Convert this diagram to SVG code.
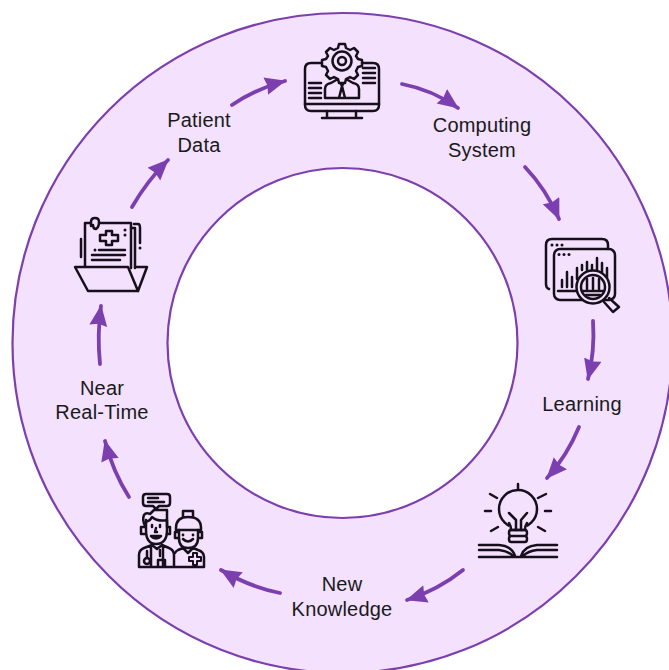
<svg xmlns="http://www.w3.org/2000/svg" width="669" height="670" viewBox="0 0 669 670">
<style>
.ring{fill:#f3e1fd;stroke:#7c3fae;stroke-width:2.2}
.hole{fill:#fff;stroke:#7c3fae;stroke-width:2.2}
.ic{fill:none;stroke:#17101c;stroke-width:2.5;stroke-linecap:round;stroke-linejoin:round}
.fl{fill:#f3e1fd}
.dot{fill:#17101c;stroke:none}
.ar{fill:none;stroke:#7b3fb0;stroke-width:3.8;stroke-linecap:round;marker-end:url(#h)}
.t{font-family:"Liberation Sans",Arial,sans-serif;font-size:20px;fill:#1a1a1a;text-anchor:middle;letter-spacing:.2px}
</style>
<defs>
<marker id="h" markerUnits="userSpaceOnUse" markerWidth="24" markerHeight="20" refX="20" refY="9" orient="auto"><path d="M0 0L21 9L0 18L2 9Z" fill="#7b3fb0"/></marker>
</defs>
<g id="ring">
<circle class="ring" cx="342.500" cy="343" r="330"/>
<circle class="hole" cx="342.500" cy="343" r="175"/>
</g>
<g id="connectors">
<path class="ar" d="M232 105Q255 89 285 81"/>
<path class="ar" d="M402 84Q433 90 458 108"/>
<path class="ar" d="M525 167Q546 189 559 219"/>
<path class="ar" d="M593 321Q595 351 588 379"/>
<path class="ar" d="M579 427Q567 456 547 478"/>
<path class="ar" d="M463 570Q438 590 407 600"/>
<path class="ar" d="M280 593Q250 587 221 570"/>
<path class="ar" d="M129 497Q113 472 105 441"/>
<path class="ar" d="M100 364Q97 335 101 306"/>
<path class="ar" d="M132 207Q147 181 168 160"/>
</g>
<g id="node-computing">
<path class="ic" d="M330 63H311Q305 63 305 69V105Q305 111 311 111H373Q379 111 379 105V69Q379 63 373 63H354"/>
<path class="ic" d="M305 104H379M327 111V118M356 111V118M322 118H362"/>
<path class="ic" d="M363 68H375M363 73H375M363 78H375M363 83H375M309 83H321M309 88H321M309 93H321M309 98H321"/>
<path class="ic" d="M325 98V89Q325 84 331 83L338 79H346L353 83Q359 84 359 89V98ZM338 79L342 86L346 79M339 98L342 86L345 98"/>
<path class="ic fl" d="M339 44h6l1 4 4 2 4-2 4 4-2 4 2 3 4 1v6l-4 1-2 4 2 4-4 4-4-2-4 2-1 4h-6l-1-4-4-2-4 2-4-4 2-4-2-4-4-1v-6l4-1 2-3-2-4 4-4 4 2 4-2z"/>
<circle class="ic" cx="342" cy="61" r="9.500"/>
<circle class="ic" cx="342" cy="61" r="4"/>
</g>
<g id="label-computing"><text class="t" x="482" y="132">Computing</text><text class="t" x="482" y="157">System</text></g>
<g id="node-analytics">
<path class="ic" d="M549 289Q546 288 546 284V245Q546 239 552 239H602Q608 239 608 245V249"/>
<rect class="ic" x="554" y="249" width="61" height="51" rx="6"/>
<circle class="dot" cx="552" cy="245" r="1.500"/><circle class="dot" cx="557" cy="245" r="1.500"/><circle class="dot" cx="562" cy="245" r="1.500"/>
<circle class="dot" cx="559" cy="254.500" r="1.500"/><circle class="dot" cx="564" cy="254.500" r="1.500"/><circle class="dot" cx="569" cy="254.500" r="1.500"/>
<path class="ic" d="M558 291H576M562 287V280M567 287V272M572 287V277M577 279V268M582 270V265M587 270V262M592 270V265M597 270V258M602 274V263M607 278V268"/>
<circle class="ic fl" cx="593" cy="287" r="16.500"/>
<circle class="ic" cx="593" cy="287" r="12"/>
<path class="ic" d="M587 279V289M593 278V289M599 279V289M583 291H603M586 295H600"/>
<path class="ic" d="M604 302L613 312L619 307L609 298"/>
</g>
<g id="label-learning"><text class="t" x="582" y="411">Learning</text></g>
<g id="node-knowledge">
<circle class="ic" cx="518" cy="509" r="19"/>
<path class="fl" d="M509 524H527V536H509Z"/>
<path class="ic" d="M509 523Q511 526 511 530H525Q525 526 527 523"/>
<path class="ic" d="M511 530H525Q527 530 527 533Q527 536 525 536Q527 536 527 539Q527 542 525 542H511Q509 542 509 539Q509 536 511 536Q509 536 509 533Q509 530 511 530ZM511 536H525"/>
<path class="ic" d="M509 513L516 520V530M527 513L521 520V530"/>
<path class="ic" d="M518 484V489M490 494L497 498M546 494L538 498M485 511H491M545 511H551M491 531L498 527M545 531L538 527"/>
<path class="ic" d="M479 545H499Q512 546 515 556M557 545H537Q524 546 521 556M479 550H499Q508 551 513 556M557 550H537Q528 551 523 556M479 557H557"/>
</g>
<g id="label-knowledge"><text class="t" x="342" y="591">New</text><text class="t" x="342" y="616">Knowledge</text></g>
<g id="node-people">
<path class="ic" d="M146 494H167Q170 494 170 497V503Q170 506 167 506H159L156 509L153 506H146Q143 506 143 503V497Q143 494 146 494Z"/>
<path class="ic" d="M148 498H158M148 502H164"/>
<path class="ic" d="M145 526Q142 519 144 515Q146 512 150 514L154 510H167V526"/>
<path class="ic" d="M146 520V530Q146 544 156 544Q167 544 167 530V520Q158 522 152 517Q150 521 146 522"/>
<path class="ic" d="M145 527H141V534H145M167 527H170V534H167"/>
<path class="ic" d="M152 525V527M160 525V527M156 528L155 532H157M151 536Q156 541 161 536Z"/>
<path class="ic" d="M174 567V555Q174 550 169 548L162 545L157 549L152 545L144 548Q139 550 139 555V567ZM151 546V567M163 546V567"/>
<circle class="ic" cx="147" cy="561" r="3"/>
<path class="ic" d="M147 558V551M160 556V550M158 566V560H165V566"/>
<path class="ic fl" d="M176 530V528Q176 517 188 517Q201 517 201 528V530Z"/>
<path class="ic" d="M183 517V511H193V517"/>
<path class="ic" d="M179 530V538Q179 548 188 548Q198 548 198 538V530M178 532H175V538H178M199 532H202V538H199"/>
<path class="ic" d="M183 539Q188 544 193 539"/>
<circle class="dot" cx="183" cy="535" r="1.400"/><circle class="dot" cx="193" cy="535" r="1.400"/>
<path class="ic" d="M175 567H204V557Q204 552 198 550L193 548L188 553L183 548L178 550Q176 551 175 553"/>
<path class="ic" d="M193 553H197V557H201V561H197V565H193V561H189V557H193Z" style="stroke-width:2"/>
</g>
<g id="label-nearrt"><text class="t" x="102" y="395">Near</text><text class="t" x="102" y="419">Real-Time</text></g>
<g id="node-records">
<path class="ic" d="M85 267V223H131V268"/>
<path class="ic fl" d="M91 226V222Q91 218 95 218Q99 218 99 222Q99 227 96 229Q93 229 93 225"/>
<path class="ic" d="M134 224H138Q140 224 140 228V243M131 228H135V268M81 239V257"/>
<path class="ic" d="M106 231H112V235H118V241H112V245H106V241H100V235H106Z"/>
<circle class="dot" cx="125" cy="230" r="1.500"/><circle class="dot" cx="125" cy="235" r="1.500"/><circle class="dot" cx="140" cy="248" r="1.500"/><circle class="dot" cx="95" cy="250" r="1.500"/>
<path class="ic" d="M99 250H125M92 255H125M92 260H120"/>
<path class="ic fl" d="M75 267H128L138 291H88Z"/>
<path class="ic" d="M135 267H147L138 291"/>
</g>
<g id="label-patient"><text class="t" x="199" y="127">Patient</text><text class="t" x="199" y="152">Data</text></g>
</svg>
